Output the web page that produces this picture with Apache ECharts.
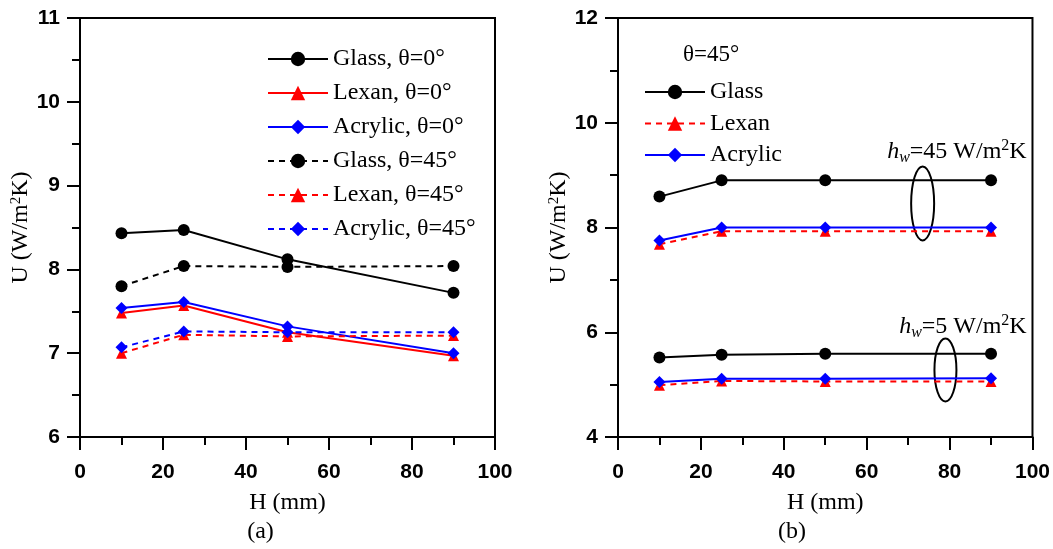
<!DOCTYPE html>
<html><head><meta charset="utf-8">
<script src="https://cdn.jsdelivr.net/npm/echarts@6/dist/echarts.min.js"></script>
<style>html,body{margin:0;padding:0;background:#fff}#c{width:1053px;height:549px}</style>
</head><body><div id="c"></div>
<script>
// ---- data ----
const H = [10, 25, 50, 90];
const xTicks = [0, 20, 40, 60, 80, 100];
const yTicksA = [6, 7, 8, 9, 10, 11];
const yTicksB = [4, 6, 8, 10, 12];
// panel (a)
const glass0 = [8.43, 8.47, 8.12, 7.72];
const lexan0 = [7.48, 7.57, 7.25, 6.97];
const acrylic0 = [7.54, 7.61, 7.32, 7.00];
const glass45 = [7.80, 8.04, 8.03, 8.04];
const lexan45 = [7.00, 7.22, 7.20, 7.21];
const acrylic45 = [7.07, 7.26, 7.25, 7.25];
// panel (b)
const glassHw45 = [8.59, 8.90, 8.90, 8.90];
const lexanHw45 = [7.68, 7.93, 7.93, 7.93];
const acrylicHw45 = [7.75, 8.00, 8.00, 8.00];
const glassHw5 = [5.52, 5.57, 5.59, 5.59];
const lexanHw5 = [4.99, 5.07, 5.06, 5.06];
const acrylicHw5 = [5.05, 5.11, 5.11, 5.12];

const SERIF = '"Liberation Serif","Times New Roman",serif';
const SANS = '"Liberation Sans Narrow","Arial Narrow","Liberation Sans",Arial,sans-serif';
const BLACK = '#000000', RED = '#ff0000', BLUE = '#0000ff';

function pts(vals) { return H.map((h, i) => [h, vals[i]]); }

function mk(name, vals, color, dashed, symbol, gi, size) {
  return {
    type: 'line', name: name, data: pts(vals), xAxisIndex: gi, yAxisIndex: gi,
    symbol: symbol, symbolSize: size, showSymbol: true,
    lineStyle: { color: color, width: 2, type: dashed ? [6, 5] : 'solid' },
    itemStyle: { color: color },
    z: 3, animation: false
  };
}

function xAxis(gi) {
  return {
    type: 'value', gridIndex: gi, min: xTicks[0], max: xTicks[xTicks.length - 1], interval: 20,
    name: 'H (mm)', nameLocation: 'middle', nameGap: 54,
    nameTextStyle: { fontFamily: SERIF, fontSize: 24, color: '#000' },
    axisLine: { show: true, lineStyle: { color: '#000', width: 2 } },
    axisTick: { show: true, length: 13, lineStyle: { color: '#000', width: 2 } },
    minorTick: { show: true, splitNumber: 2, length: 8, lineStyle: { color: '#000', width: 2 } },
    axisLabel: { fontFamily: SANS, fontWeight: 'bold', fontSize: 21, color: '#000', margin: 25 },
    splitLine: { show: false }
  };
}
function yAxis(gi, ticks, interval) {
  return {
    type: 'value', gridIndex: gi, min: ticks[0], max: ticks[ticks.length - 1], interval: interval,
    name: 'U (W/m{sup|2}K)', nameLocation: 'middle', nameGap: 44, nameRotate: 90,
    nameTextStyle: { fontFamily: SERIF, fontSize: 24, color: '#000',
      rich: { sup: { fontFamily: SERIF, fontSize: 15, verticalAlign: 'top', padding: [0, 0, 10, 0] } } },
    axisLine: { show: true, lineStyle: { color: '#000', width: 2 } },
    axisTick: { show: true, length: 13, lineStyle: { color: '#000', width: 2 } },
    minorTick: { show: true, splitNumber: 2, length: 8, lineStyle: { color: '#000', width: 2 } },
    axisLabel: { fontFamily: SANS, fontWeight: 'bold', fontSize: 21, color: '#000', margin: 20 },
    splitLine: { show: false }
  };
}

const legendText = { fontFamily: SERIF, fontSize: 24, color: '#000', lineHeight: 24 };

const option = {
  animation: false,
  backgroundColor: '#fff',
  grid: [
    { left: 80, top: 18, width: 415, height: 419, show: true, borderColor: '#000', borderWidth: 2, backgroundColor: 'transparent' },
    { left: 618, top: 18, width: 415, height: 419, show: true, borderColor: '#000', borderWidth: 2, backgroundColor: 'transparent' }
  ],
  xAxis: [xAxis(0), xAxis(1)],
  yAxis: [yAxis(0, yTicksA, 1), yAxis(1, yTicksB, 2)],
  legend: [
    {
      orient: 'vertical', left: 262, top: 42, itemWidth: 60, itemHeight: 18, itemGap: 10,
      textStyle: legendText, selectedMode: false,
      data: ['Glass, θ=0°', 'Lexan, θ=0°', 'Acrylic, θ=0°', 'Glass, θ=45°', 'Lexan, θ=45°', 'Acrylic, θ=45°']
    },
    {
      orient: 'vertical', left: 639, top: 75, itemWidth: 60, itemHeight: 18, itemGap: 7.5,
      textStyle: legendText, selectedMode: false,
      data: ['Glass', 'Lexan', 'Acrylic']
    }
  ],
  series: [
    mk('Glass, θ=0°', glass0, BLACK, false, 'circle', 0, 12),
    mk('Lexan, θ=0°', lexan0, RED, false, 'triangle', 0, 11),
    mk('Acrylic, θ=0°', acrylic0, BLUE, false, 'diamond', 0, 12),
    mk('Glass, θ=45°', glass45, BLACK, true, 'circle', 0, 12),
    mk('Lexan, θ=45°', lexan45, RED, true, 'triangle', 0, 11),
    mk('Acrylic, θ=45°', acrylic45, BLUE, true, 'diamond', 0, 12),
    mk('Glass', glassHw45, BLACK, false, 'circle', 1, 12),
    mk('Lexan', lexanHw45, RED, true, 'triangle', 1, 11),
    mk('Acrylic', acrylicHw45, BLUE, false, 'diamond', 1, 12),
    mk('Glass', glassHw5, BLACK, false, 'circle', 1, 12),
    mk('Lexan', lexanHw5, RED, true, 'triangle', 1, 11),
    mk('Acrylic', acrylicHw5, BLUE, false, 'diamond', 1, 12)
  ]
};

const chart = echarts.init(document.getElementById('c'), null, { renderer: 'canvas' });
chart.setOption(option);

// annotations placed from data coordinates
function px(gi, x, y) { return chart.convertToPixel({ gridIndex: gi }, [x, y]); }
const annoRich = {
  i: { fontFamily: SERIF, fontStyle: 'italic', fontSize: 24, fill: '#000' },
  sub: { fontFamily: SERIF, fontStyle: 'italic', fontSize: 16, fill: '#000', padding: [12, 0, 0, 0] },
  n: { fontFamily: SERIF, fontSize: 24, fill: '#000' },
  sup: { fontFamily: SERIF, fontSize: 16, fill: '#000', padding: [0, 0, 12, 0] }
};
const t1 = px(1, 98.6, 9.44), t2 = px(1, 98.6, 6.1);
const e1 = px(1, 73.5, 8.46), e2 = px(1, 79.0, 5.28);
const theta = px(1, 15.7, 11.3);
const la = px(0, 43.5, 6), lb = px(1, 42, 4);
chart.setOption({
  graphic: [
    { type: 'text', x: t1[0], y: t1[1], style: { text: '{i|h}{sub|w}{n|=45 W/m}{sup|2}{n|K}', rich: annoRich, align: 'right', verticalAlign: 'middle' } },
    { type: 'text', x: t2[0], y: t2[1], style: { text: '{i|h}{sub|w}{n|=5 W/m}{sup|2}{n|K}', rich: annoRich, align: 'right', verticalAlign: 'middle' } },
    { type: 'ellipse', shape: { cx: e1[0], cy: e1[1], rx: 11.5, ry: 37 }, style: { fill: null, stroke: '#000', lineWidth: 2 } },
    { type: 'ellipse', shape: { cx: e2[0], cy: e2[1], rx: 11, ry: 31.5 }, style: { fill: null, stroke: '#000', lineWidth: 2 } },
    { type: 'text', x: theta[0], y: theta[1], style: { text: 'θ=45°', font: '23px ' + SERIF, fill: '#000', align: 'left', verticalAlign: 'middle' } },
    { type: 'text', x: la[0], y: la[1] + 95, style: { text: '(a)', font: '24px ' + SERIF, fill: '#000', align: 'center', verticalAlign: 'middle' } },
    { type: 'text', x: lb[0], y: lb[1] + 95, style: { text: '(b)', font: '24px ' + SERIF, fill: '#000', align: 'center', verticalAlign: 'middle' } }
  ]
});
</script></body></html>
